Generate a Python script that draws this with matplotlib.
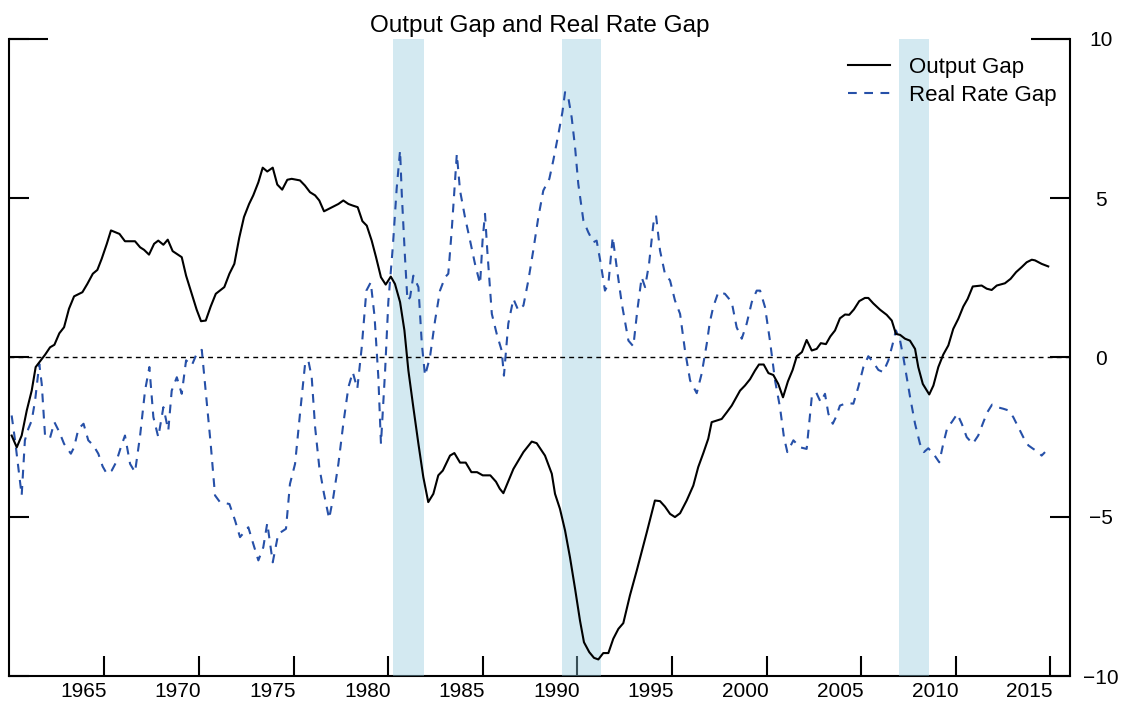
import matplotlib
matplotlib.use("Agg")
import matplotlib.pyplot as plt

plt.rcParams['font.family'] = ['Liberation Sans', 'DejaVu Sans']

title = "Output Gap and Real Rate Gap"
labels = ["Output Gap", "Real Rate Gap"]

# decimal-year positions and values
og_x = [1961.2, 1961.47, 1961.73, 1962.0, 1962.26, 1962.47, 1962.7, 1962.97, 1963.23, 1963.46,
        1963.72, 1963.97, 1964.23, 1964.5, 1964.94, 1965.2, 1965.49, 1965.73, 1965.96, 1966.23,
        1966.45, 1966.9, 1967.19, 1967.72, 1967.99, 1968.2, 1968.46, 1968.73, 1968.95, 1969.22,
        1969.45, 1969.71, 1970.19, 1970.42, 1970.72, 1970.98, 1971.21, 1971.46, 1971.72, 1971.99,
        1972.44, 1972.71, 1972.97, 1973.23, 1973.48, 1973.75, 1973.97, 1974.24, 1974.47, 1974.71,
        1975.0, 1975.24, 1975.5, 1975.77, 1976.0, 1976.44, 1976.7, 1976.97, 1977.24, 1977.46,
        1977.71, 1978.2, 1978.47, 1978.73, 1979.0, 1979.23, 1979.49, 1979.74, 1979.97, 1980.23,
        1980.46, 1980.72, 1980.97, 1981.24, 1981.46, 1981.73, 1981.96, 1982.17, 1982.43, 1982.7,
        1982.96, 1983.22, 1983.49, 1983.75, 1983.99, 1984.37, 1984.6, 1984.9, 1985.2, 1985.5,
        1985.8, 1986.1, 1986.5, 1986.8, 1987.0, 1987.19, 1987.72, 1988.25, 1988.69, 1988.95,
        1989.39, 1989.75, 1989.92, 1990.18, 1990.45, 1990.71, 1990.98, 1991.24, 1991.45, 1991.73,
        1991.98, 1992.21, 1992.47, 1992.74, 1993.0, 1993.27, 1993.53, 1993.88, 1994.24, 1994.77,
        1995.2, 1995.47, 1995.73, 1996.0, 1996.26, 1996.53, 1996.88, 1997.23, 1997.49, 1997.76,
        1998.02, 1998.2, 1998.47, 1998.73, 1999.0, 1999.26, 1999.7, 1999.96, 2000.23, 2000.49,
        2000.7, 2000.95, 2001.2, 2001.46, 2001.72, 2001.97, 2002.23, 2002.48, 2002.7, 2002.97,
        2003.22, 2003.49, 2003.75, 2003.97, 2004.24, 2004.47, 2004.72, 2004.98, 2005.25, 2005.47,
        2005.72, 2006.0, 2006.3, 2006.48, 2006.74, 2007.1, 2007.45, 2007.72, 2007.94, 2008.16,
        2008.42, 2008.68, 2008.95, 2009.12, 2009.36, 2009.7, 2009.92, 2010.18, 2010.44, 2010.71,
        2010.97, 2011.24, 2011.5, 2011.73, 2012.0, 2012.47, 2012.74, 2013.0, 2013.27, 2013.7,
        2014.0, 2014.29, 2014.59, 2014.85, 2015.12, 2015.29, 2015.64, 2015.99]
og_y = [-2.45, -2.82, -2.45, -1.66, -1.04, -0.3, -0.12, 0.09, 0.32, 0.4,
        0.76, 0.95, 1.53, 1.92, 2.05, 2.31, 2.63, 2.75, 3.1, 3.57,
        3.99, 3.88, 3.65, 3.65, 3.46, 3.38, 3.23, 3.57, 3.67, 3.54,
        3.7, 3.34, 3.15, 2.57, 2.0, 1.5, 1.14, 1.16, 1.6, 2.0,
        2.21, 2.63, 2.94, 3.76, 4.41, 4.82, 5.09, 5.5, 5.96, 5.84,
        5.96, 5.43, 5.27, 5.58, 5.61, 5.56, 5.4, 5.19, 5.09, 4.93,
        4.59, 4.74, 4.82, 4.93, 4.82, 4.77, 4.72, 4.28, 4.14, 3.67,
        3.15, 2.52, 2.29, 2.54, 2.31, 1.74, 0.85, -0.41, -1.56, -2.71,
        -3.76, -4.54, -4.28, -3.7, -3.55, -3.08, -3.0, -3.3, -3.3, -3.6,
        -3.6, -3.7, -3.7, -3.9, -4.12, -4.26, -3.5, -2.97, -2.64, -2.69,
        -3.08, -3.65, -4.28, -4.75, -5.43, -6.27, -7.26, -8.26, -8.94, -9.25,
        -9.43, -9.48, -9.28, -9.28, -8.83, -8.52, -8.34, -7.47, -6.69, -5.49,
        -4.49, -4.51, -4.68, -4.91, -5.01, -4.89, -4.49, -4.02, -3.44, -3.0,
        -2.55, -2.03, -1.98, -1.93, -1.72, -1.51, -1.04, -0.88, -0.68, -0.41,
        -0.22, -0.22, -0.49, -0.55, -0.83, -1.25, -0.75, -0.39, 0.04, 0.17,
        0.55, 0.22, 0.27, 0.45, 0.42, 0.66, 0.85, 1.23, 1.35, 1.34,
        1.51, 1.77, 1.87, 1.87, 1.7, 1.5, 1.34, 1.16, 0.74, 0.71,
        0.59, 0.53, 0.27, -0.3, -0.83, -1.16, -0.88, -0.3, 0.09, 0.38,
        0.9, 1.22, 1.6, 1.84, 2.23, 2.26, 2.16, 2.12, 2.26, 2.33,
        2.47, 2.68, 2.84, 2.99, 3.07, 3.05, 2.94, 2.86]

rr_x = [1961.2, 1961.38, 1961.73, 1961.9, 1962.08, 1962.26, 1962.44, 1962.66, 1962.79, 1962.97,
        1963.23, 1963.46, 1963.72, 1963.97, 1964.33, 1964.5, 1964.73, 1965.0, 1965.25, 1965.52,
        1965.78, 1966.01, 1966.23, 1966.49, 1966.72, 1966.97, 1967.19, 1967.46, 1967.72, 1967.99,
        1968.25, 1968.48, 1968.69, 1968.95, 1969.22, 1969.48, 1969.66, 1969.93, 1970.19, 1970.42,
        1970.72, 1970.98, 1971.25, 1971.47, 1971.72, 1971.95, 1972.21, 1972.71, 1973.01, 1973.27,
        1973.71, 1973.97, 1974.24, 1974.5, 1974.71, 1975.0, 1975.29, 1975.7, 1975.91, 1976.18,
        1976.44, 1976.71, 1976.88, 1977.06, 1977.24, 1977.46, 1977.71, 1977.98, 1978.2, 1978.47,
        1978.73, 1979.0, 1979.23, 1979.47, 1979.7, 1979.95, 1980.18, 1980.38, 1980.58, 1980.72,
        1980.94, 1981.11, 1981.35, 1981.55, 1981.73, 1981.82, 1981.99, 1982.12, 1982.26, 1982.43,
        1982.7, 1982.88, 1983.05, 1983.31, 1983.58, 1983.84, 1984.11, 1984.28, 1984.46, 1984.73,
        1984.9, 1985.16, 1985.43, 1985.69, 1985.96, 1986.09, 1986.22, 1986.34, 1986.58, 1986.84,
        1987.1, 1987.22, 1987.45, 1987.72, 1987.98, 1988.25, 1988.51, 1988.77, 1989.04, 1989.3,
        1989.62, 1989.83, 1990.1, 1990.31, 1990.45, 1990.62, 1990.8, 1990.98, 1991.15, 1991.42,
        1991.68, 1991.95, 1992.12, 1992.34, 1992.56, 1992.74, 1992.97, 1993.18, 1993.45, 1993.8,
        1994.06, 1994.27, 1994.5, 1994.68, 1994.89, 1995.12, 1995.26, 1995.47, 1995.73, 1996.0,
        1996.26, 1996.53, 1996.79, 1997.06, 1997.41, 1997.67, 1997.94, 1998.1, 1998.28, 1998.55,
        1998.9, 1999.26, 1999.52, 1999.79, 2000.05, 2000.32, 2000.58, 2000.76, 2001.02, 2001.28,
        2001.55, 2001.81, 2002.02, 2002.2, 2002.52, 2002.87, 2003.22, 2003.49, 2003.72, 2003.96,
        2004.19, 2004.37, 2004.6, 2004.77, 2004.98, 2005.34, 2005.69, 2005.95, 2006.22, 2006.48,
        2006.74, 2007.01, 2007.27, 2007.54, 2007.77, 2007.94, 2008.16, 2008.33, 2008.51, 2008.69,
        2008.95, 2009.21, 2009.42, 2009.65, 2009.92, 2010.23, 2010.44, 2010.66, 2010.89, 2011.18,
        2011.42, 2011.68, 2012.0, 2012.29, 2012.56, 2012.77, 2013.02, 2013.3, 2013.62, 2013.88,
        2014.14, 2014.41, 2014.67, 2014.94, 2015.2, 2015.47, 2015.64, 2015.82]
rr_y = [-1.82, -2.6, -4.33, -2.6, -2.24, -1.98, -1.35, -0.2, -0.83, -2.5,
        -2.52, -2.03, -2.34, -2.71, -3.02, -2.82, -2.24, -2.08, -2.6, -2.76,
        -3.02, -3.42, -3.65, -3.55, -3.29, -2.82, -2.45, -3.34, -3.6, -2.45,
        -1.04, -0.3, -1.87, -2.5, -1.56, -2.29, -1.04, -0.62, -1.14, -0.09,
        -0.25, 0.12, 0.24, -1.14, -2.71, -4.33, -4.54, -4.6, -5.12, -5.64,
        -5.33, -5.85, -6.37, -5.96, -5.2, -6.43, -5.54, -5.38, -3.97, -3.34,
        -1.77, -0.2, -0.09, -0.62, -2.19, -3.44, -4.28, -5.06, -4.39, -3.34,
        -2.08, -0.93, -0.46, -0.98, 0.3, 2.1, 2.36, 1.3, -0.6, -2.71,
        -0.41, 1.75, 3.5, 5.3, 6.5, 5.14, 3.15, 1.79, 1.89, 2.57,
        2.21, 0.43, -0.57, 0.01, 1.16, 2.1, 2.52, 2.63, 3.99, 6.39,
        5.24, 4.41, 3.67, 2.94, 2.31, 3.67, 4.51, 3.36, 1.37, 0.74,
        0.22, -0.57, 1.06, 1.84, 1.48, 1.63, 2.42, 3.36, 4.41, 5.24,
        5.61, 6.19, 7.02, 7.7, 8.33, 8.17, 7.54, 6.6, 5.45, 4.3,
        3.93, 3.62, 3.67, 2.94, 2.1, 2.31, 3.78, 2.84, 1.69, 0.53,
        0.35, 1.48, 2.52, 2.21, 2.94, 4.2, 4.46, 3.36, 2.63, 2.42,
        1.79, 1.37, 0.22, -0.72, -1.12, -0.51, 0.43, 1.1, 1.58, 2.05,
        2.0, 1.74, 0.95, 0.59, 1.06, 1.74, 2.1, 2.1, 1.58, 0.53,
        -0.72, -1.56, -2.5, -2.97, -2.6, -2.82, -2.87, -1.25, -1.09, -1.4,
        -1.14, -1.77, -2.08, -1.87, -1.51, -1.43, -1.45, -0.93, -0.3, 0.04,
        -0.15, -0.39, -0.46, -0.09, 0.43, 0.85, 0.53, 0.01, -0.62, -1.25,
        -2.08, -2.71, -2.97, -2.85, -3.02, -3.29, -2.71, -2.19, -2.03, -1.77,
        -2.08, -2.5, -2.71, -2.45, -2.03, -1.72, -1.48, -1.56, -1.61, -1.66,
        -1.87, -2.19, -2.5, -2.76, -2.87, -2.97, -3.08, -2.97]

rec_start = [1981.34, 1990.27, 2008.10]
rec_end = [1983.01, 1992.34, 2009.67]

year_labels = list(range(1965, 2020, 5))
tick_offset = 1.1
y_ticks = [-10, -5, 0, 5, 10]

W, H = 1126, 710
fig = plt.figure(figsize=(W / 100, H / 100), dpi=100)
L, R, T, B = 9, 1070, 39, 676
ax = fig.add_axes([L / W, 1 - B / H, (R - L) / W, (B - T) / H])

ax.set_xlim(1961.06, 2017.14)
ax.set_ylim(-10, 10)

for s, e in zip(rec_start, rec_end):
    ax.axvspan(s, e, color='#91c8dc', alpha=0.4, lw=0, zorder=1)

ax.axhline(0, color='black', lw=1.0, ls=(0, (3.5, 3)), zorder=1.5)
ax.plot(og_x, og_y, color='black', lw=1.5, label=labels[0], zorder=3)
ax.plot(rr_x, rr_y, color='#2650a8', lw=1.5, ls=(0, (4.2, 3.6)), label=labels[1], zorder=2.5)

# spines
lw_sp = 1.5
for side in ['left', 'right', 'bottom']:
    ax.spines[side].set_linewidth(lw_sp)
    ax.spines[side].set_zorder(0.5)
ax.spines['top'].set_visible(False)
ax.set_axisbelow(True)

# x ticks: tick marks offset from label positions
ax.set_xticks([y + tick_offset for y in year_labels])
ax.set_xticklabels([])
ax.tick_params(axis='x', which='major', direction='in', length=14.4, width=lw_sp)
ax.set_xticks(year_labels, minor=True)
ax.set_xticklabels([str(y) for y in year_labels], minor=True)
ax.tick_params(axis='x', which='minor', length=0, pad=4.0, labelsize=15)

# y ticks
ax.set_yticks(y_ticks)
ax.set_yticklabels(['\u221210' if v == -10 else ('\u22125' if v == -5 else str(v)) for v in y_ticks])
ax.tick_params(axis='y', which='major', direction='in', length=14.4, width=lw_sp,
               left=True, right=True, labelleft=False, labelright=True, pad=22.5, labelsize=15)
for lbl in ax.get_yticklabels():
    lbl.set_horizontalalignment('center')

# longer marks at the top
tl = 39 / (R - L)
ax.plot([0, tl], [1, 1], transform=ax.transAxes, color='black', lw=lw_sp, clip_on=False, zorder=0.5,
        solid_capstyle='butt')
ax.plot([1 - tl, 1], [1, 1], transform=ax.transAxes, color='black', lw=lw_sp, clip_on=False, zorder=0.5,
        solid_capstyle='butt')

ax.set_title(title, fontsize=17.5, pad=5)

leg = ax.legend(loc='upper left', bbox_to_anchor=(847.7 / W, 1 - 57 / H), bbox_transform=fig.transFigure,
                frameon=False, fontsize=16, handlelength=1.9, handletextpad=0.85,
                labelspacing=0.3, borderpad=0, borderaxespad=0)

fig.savefig('out.png', dpi=100)
